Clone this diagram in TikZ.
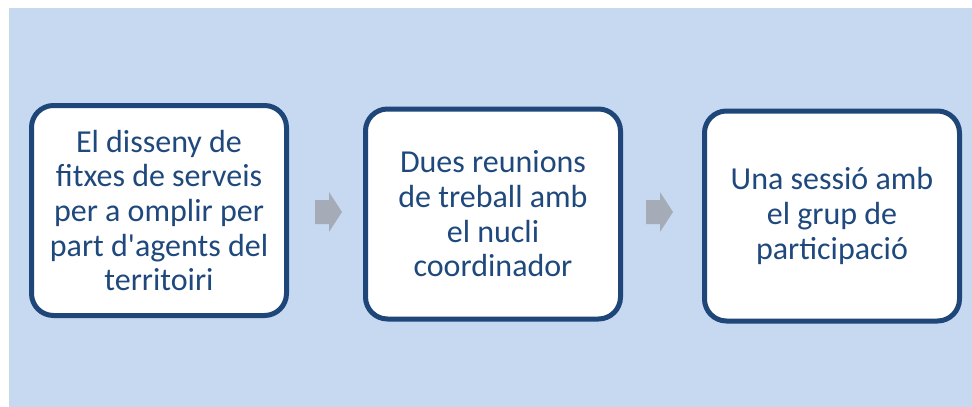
\documentclass[tikz,border=0pt]{standalone}
\usepackage{fontspec}
\setmainfont{Carlito}
\usepackage{tikz}

\begin{document}
\begin{tikzpicture}[x=0.75pt,y=-0.75pt,
	stage box/.style={draw=boxblue,line width=3.75pt,fill=white,rounded corners=16.5pt,
		minimum width=191.25pt,minimum height=157.5pt,inner sep=0pt,align=center,
		text=txtblue,font=\fontsize{24}{26}\selectfont}]
	
	\definecolor{bgblue}{RGB}{198,217,241}
	\definecolor{boxblue}{RGB}{31,70,120}
	\definecolor{txtblue}{RGB}{31,73,125}
	\definecolor{arrowgray}{RGB}{166,172,183}
	
	\useasboundingbox (0,0) rectangle (972,407);
	\fill[bgblue] (9,8) rectangle (972,407);
	
	\node[stage box] (a) at (159,210.5) {El disseny de\\fitxes de serveis\\per a omplir per\\part d\textquotesingle agents del\\territoiri};
	\node[stage box] (b) at (493,214) {Dues reunions\\de treball amb\\el nucli\\coordinador};
	\node[stage box] (c) at (832,216) {Una sessió amb\\el grup de\\participació};
	
	% block arrows between the boxes
	\coordinate (ab) at (315,212);
	\coordinate (bc) at (646,212);
	\foreach \p in {ab,bc}
	\fill[arrowgray] (\p) ++(0,-12) -- ++(14,0) -- ++(0,-8) -- ++(13,20)
		-- ++(-13,20) -- ++(0,-8) -- ++(-14,0) -- cycle;
\end{tikzpicture}
\end{document}
